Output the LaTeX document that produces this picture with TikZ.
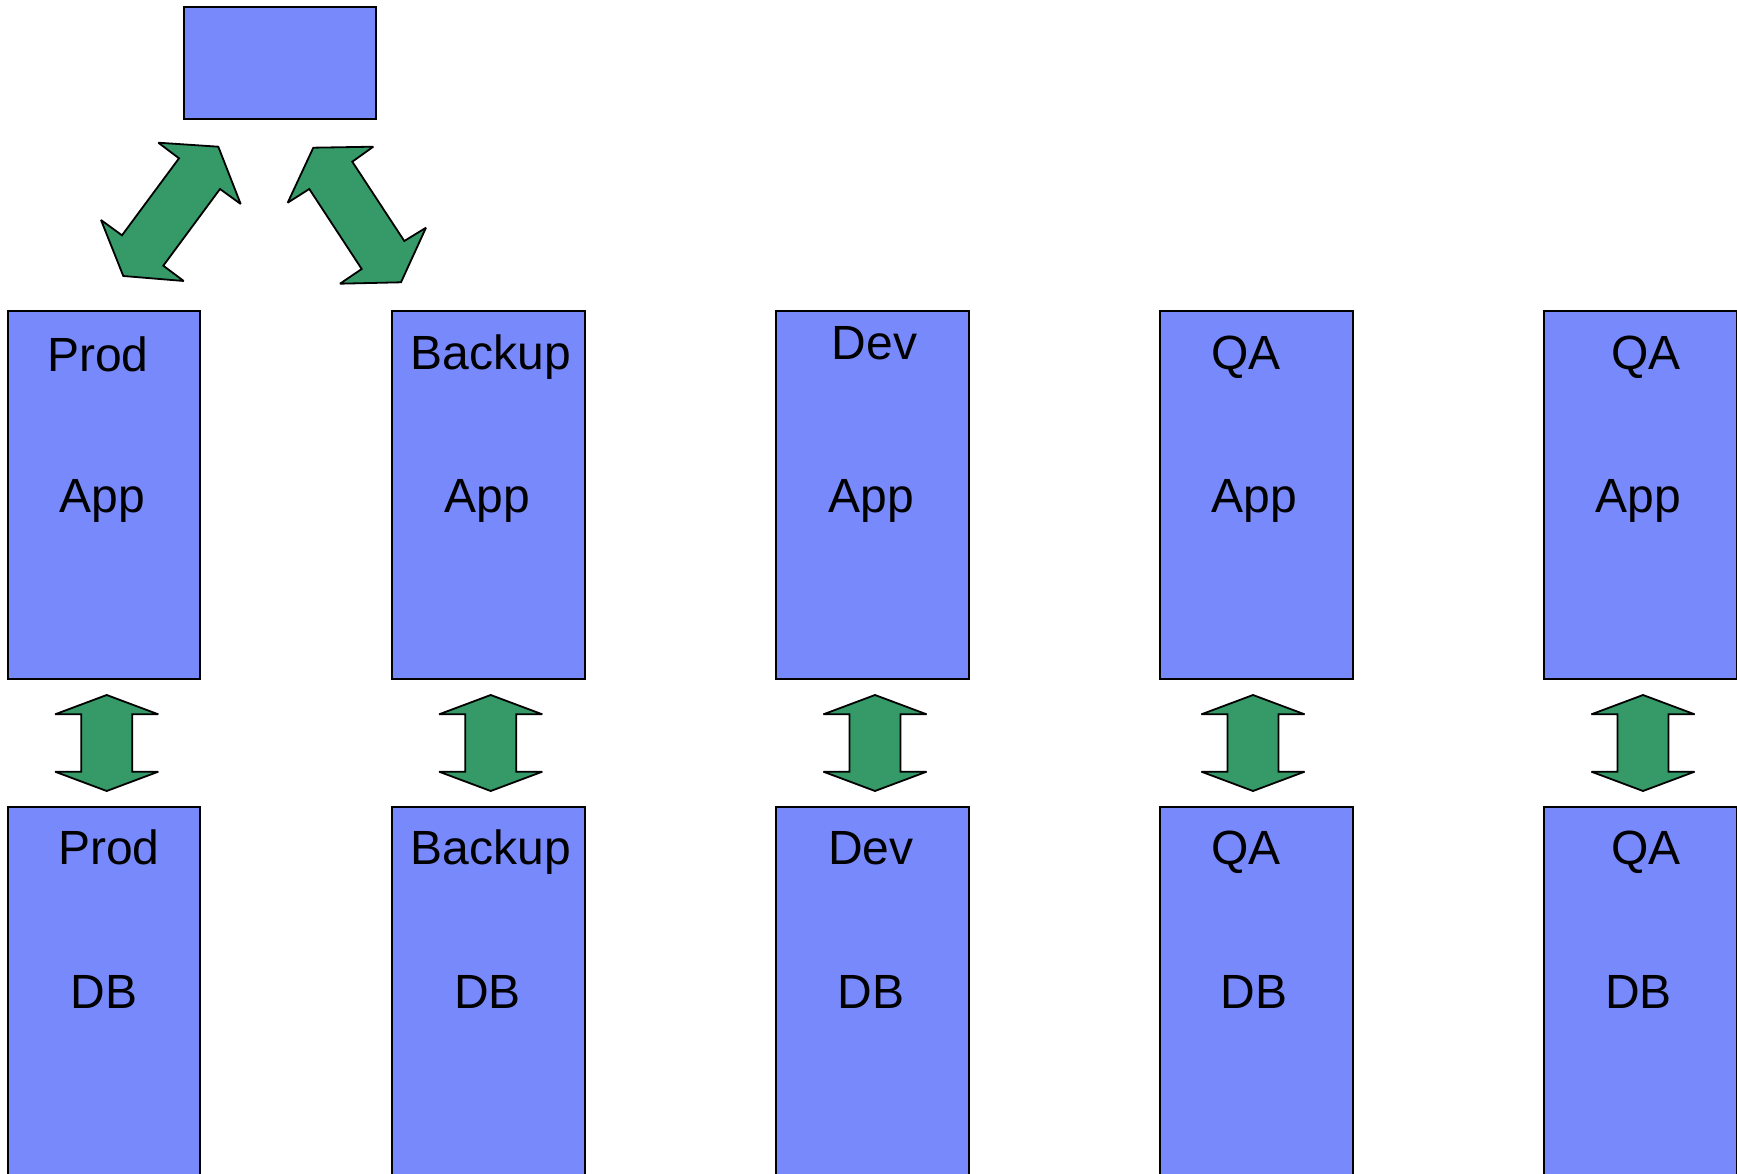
\documentclass[tikz,border=0pt]{standalone}
\usepackage{fontspec}
\setmainfont{Liberation Sans}
\definecolor{boxblue}{RGB}{120,137,251}
\definecolor{arrowgreen}{RGB}{53,153,104}
\begin{document}
\begin{tikzpicture}[x=1pt,y=-1pt,
  box/.style={draw=black, line width=2pt, fill=boxblue, anchor=north west,
    minimum width=192.5pt, inner sep=0pt, outer sep=0pt},
  appbox/.style={box, minimum height=368pt},
  dbbox/.style={box, minimum height=400pt},
  lbl/.style={anchor=base, inner sep=0pt, font=\fontsize{48}{57}\selectfont},
  blockarrow/.style={draw=black, line width=1.8pt, fill=arrowgreen,
    line join=miter, miter limit=1.6}]
\useasboundingbox (0,0) rectangle (1737,1174);
\clip (0,0) rectangle (1737,1174);

% top box
\node[box, minimum width=192.6pt, minimum height=112.6pt] (top) at (183.7,6.7) {};

% application tier
\node[appbox] (app1) at (7.5,311) {};
\node[appbox] (app2) at (392,311) {};
\node[appbox] (app3) at (776,311) {};
\node[appbox] (app4) at (1160,311) {};
\node[appbox] (app5) at (1544,311) {};

% database tier
\node[dbbox] (db1) at (7.5,807) {};
\node[dbbox] (db2) at (392,807) {};
\node[dbbox] (db3) at (776,807) {};
\node[dbbox] (db4) at (1160,807) {};
\node[dbbox] (db5) at (1544,807) {};

% labels of the application boxes
\node[lbl] (app1t) at (98,371) {Prod};
\node[lbl] (app2t) at (490.7,369) {Backup};
\node[lbl] (app3t) at (874.4,359.3) {Dev};
\node[lbl] (app4t) at (1246,369) {QA};
\node[lbl] (app5t) at (1646,369) {QA};
\node[lbl] (app1b) at (102.5,512.5) {App};
\node[lbl] (app2b) at (487.4,512.5) {App};
\node[lbl] (app3b) at (871,512.5) {App};
\node[lbl] (app4b) at (1254,512.5) {App};
\node[lbl] (app5b) at (1638.4,512.5) {App};

% labels of the database boxes
\node[lbl] (db1t) at (109,864.3) {Prod};
\node[lbl] (db2t) at (490.7,864.3) {Backup};
\node[lbl] (db3t) at (870.7,864.3) {Dev};
\node[lbl] (db4t) at (1246,864.3) {QA};
\node[lbl] (db5t) at (1646,864.3) {QA};
\node[lbl] (db1b) at (104,1008.3) {DB};
\node[lbl] (db2b) at (487.4,1008.3) {DB};
\node[lbl] (db3b) at (870.7,1008.3) {DB};
\node[lbl] (db4b) at (1254,1008.3) {DB};
\node[lbl] (db5b) at (1638.4,1008.3) {DB};

% double arrows between the app and db tiers
\foreach \cx in {106.7,490.7,875,1253,1643} {
  \path[blockarrow] (\cx,695) -- (\cx+51.6,714.3) -- (\cx+25.5,714.3)
    -- (\cx+25.5,771.7) -- (\cx+51.6,771.7) -- (\cx,791)
    -- (\cx-51.6,771.7) -- (\cx-25.5,771.7) -- (\cx-25.5,714.3)
    -- (\cx-51.6,714.3) -- cycle;
}

% double arrows from the top box to Prod and Backup
\path[blockarrow] (218.3,146.7) -- (240.7,204) -- (220,189) -- (163.3,265.7)
  -- (183.7,281) -- (123.3,276) -- (101,220) -- (122,235.3) -- (179,158.3)
  -- (158.3,142.7) -- cycle;
\path[blockarrow] (313.3,147.7) -- (373.3,146.7) -- (352.3,161.7) -- (404.3,241)
  -- (426,227.7) -- (401,282.3) -- (340,283.7) -- (361.7,269) -- (309.3,189)
  -- (287.7,202.7) -- cycle;
\end{tikzpicture}
\end{document}
